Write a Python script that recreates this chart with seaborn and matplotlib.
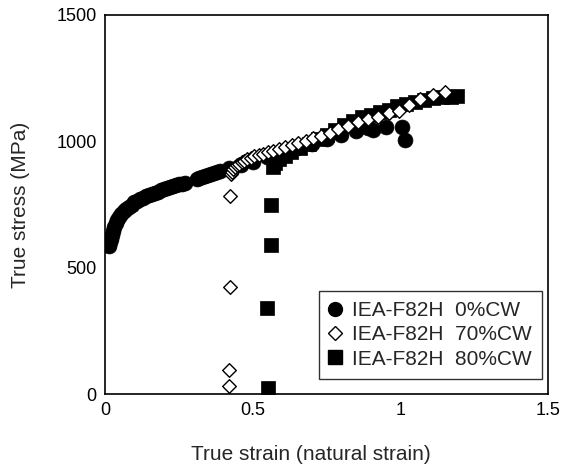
import numpy as np
import pandas as pd
import matplotlib
matplotlib.use("Agg")
import matplotlib.pyplot as plt
import seaborn as sns
from matplotlib.lines import Line2D

# 0%CW (circles)
strain_0 = [0.015, 0.018, 0.020, 0.023, 0.027, 0.031, 0.036, 0.042, 0.048, 0.055,
            0.063, 0.072, 0.081, 0.090, 0.100, 0.110, 0.120, 0.130, 0.140, 0.150,
            0.160, 0.170, 0.180, 0.190, 0.200, 0.210, 0.220, 0.230, 0.240, 0.250,
            0.260, 0.270, 0.310, 0.320, 0.330, 0.340, 0.350, 0.360, 0.370, 0.380,
            0.390, 0.420, 0.460, 0.500, 0.550, 0.600, 0.650, 0.700, 0.750, 0.800,
            0.850, 0.890, 0.908, 0.950, 1.005, 1.016]
stress_0 = [585, 600, 615, 630, 645, 660, 675, 688, 700, 712,
            723, 733, 742, 750, 758, 765, 771, 777, 782, 787,
            792, 797, 801, 806, 810, 814, 818, 822, 826, 830,
            833, 836, 852, 856, 860, 864, 868, 872, 876, 880,
            884, 895, 908, 920, 938, 955, 972, 990, 1008, 1025,
            1040, 1052, 1046, 1055, 1057, 1004]

# 70%CW (open diamonds)
strain_70 = [0.420, 0.420, 0.422, 0.423, 0.425, 0.430, 0.435, 0.440, 0.447, 0.455,
             0.463, 0.472, 0.482, 0.493, 0.505, 0.520, 0.535, 0.552, 0.570, 0.590,
             0.610, 0.632, 0.655, 0.680, 0.705, 0.732, 0.760, 0.790, 0.823, 0.857,
             0.890, 0.925, 0.960, 0.995, 1.030, 1.067, 1.110, 1.150]
stress_70 = [30, 95, 424, 783, 870, 880, 890, 898, 905, 912,
             918, 924, 930, 935, 940, 946, 951, 957, 963, 970,
             977, 985, 993, 1002, 1012, 1022, 1033, 1050, 1062, 1075,
             1088, 1098, 1112, 1122, 1145, 1168, 1182, 1195]

# 80%CW (filled squares)
strain_80 = [0.552, 0.549, 0.562, 0.562, 0.569, 0.575, 0.590, 0.610, 0.630, 0.660,
             0.690, 0.720, 0.750, 0.780, 0.810, 0.840, 0.870, 0.900, 0.930, 0.960,
             0.990, 1.020, 1.050, 1.080, 1.110, 1.140, 1.170, 1.190]
stress_80 = [25, 340, 589, 747, 898, 915, 930, 943, 956, 972,
             990, 1008, 1026, 1045, 1065, 1082, 1096, 1106, 1115, 1125,
             1138, 1148, 1157, 1164, 1170, 1174, 1177, 1178]

labels = ["IEA-F82H  0%CW", "IEA-F82H  70%CW", "IEA-F82H  80%CW"]
x_ticks = [0, 0.5, 1, 1.5]
x_ticklabels = ["0", "0.5", "1", "1.5"]
y_ticks = [0, 500, 1000, 1500]

df0 = pd.DataFrame({"strain": strain_0, "stress": stress_0})
df70 = pd.DataFrame({"strain": strain_70, "stress": stress_70})
df80 = pd.DataFrame({"strain": strain_80, "stress": stress_80})

sns.set_style("white")
plt.rcParams["font.family"] = ["Liberation Sans", "DejaVu Sans"]

fig = plt.figure(figsize=(5.64, 4.68), dpi=100)
ax = fig.add_axes([0.186, 0.158, 0.786, 0.810])

sns.scatterplot(data=df0, x="strain", y="stress", ax=ax, marker="o", s=115,
                color="black", edgecolor="black", linewidth=0.5, zorder=2)
sns.scatterplot(data=df80, x="strain", y="stress", ax=ax, marker="s", s=105,
                color="black", edgecolor="black", linewidth=0.5, zorder=3)
sns.scatterplot(data=df70, x="strain", y="stress", ax=ax, marker="D", s=48,
                color="white", edgecolor="black", linewidth=1.0, zorder=4)

ax.set_xlim(0, 1.5)
ax.set_ylim(0, 1500)
ax.set_xticks(x_ticks)
ax.set_xticklabels(x_ticklabels)
ax.set_yticks(y_ticks)
ax.tick_params(axis="both", direction="in", length=5, width=0.8, labelsize=13,
               colors="black", pad=6)
for sp in ax.spines.values():
    sp.set_color("black")
    sp.set_linewidth(1.2)

ax.set_xlabel("True strain (natural strain)", fontsize=15, labelpad=18)
ax.xaxis.set_label_coords(0.465, -0.135)
ax.set_ylabel("True stress (MPa)", fontsize=15, labelpad=19)

handles = [
    Line2D([], [], linestyle="none", marker="o", markersize=10,
           markerfacecolor="black", markeredgecolor="black"),
    Line2D([], [], linestyle="none", marker="D", markersize=7,
           markerfacecolor="white", markeredgecolor="black", markeredgewidth=1.0),
    Line2D([], [], linestyle="none", marker="s", markersize=10,
           markerfacecolor="black", markeredgecolor="black"),
]
leg = ax.legend(handles, labels, loc="lower right", bbox_to_anchor=(0.9865, 0.0396),
                fontsize=15, frameon=True, fancybox=False, handletextpad=0.55,
                handlelength=0.55, borderpad=0.5, labelspacing=0.25,
                borderaxespad=0.0)
leg.get_frame().set_edgecolor("black")
leg.get_frame().set_linewidth(1.0)

fig.savefig("out.png", dpi=100)
